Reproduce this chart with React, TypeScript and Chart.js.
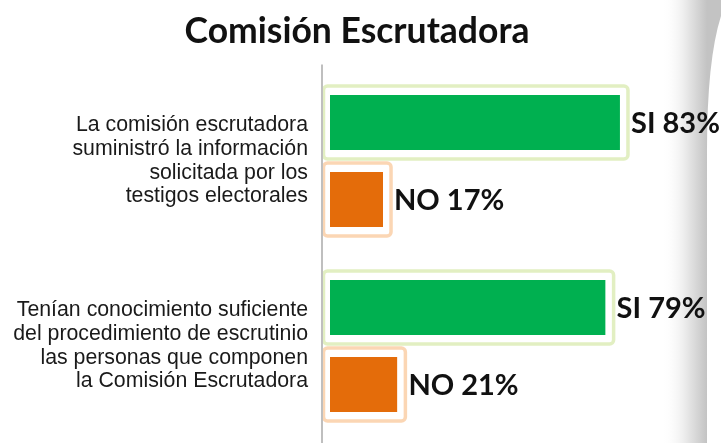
import React, { useEffect, useRef } from "react";
import { Chart, registerables } from "chart.js";

Chart.register(...registerables);

const titleText = "Comisión Escrutadora";
const categories = [
  ["La comisión escrutadora", "suministró la información", "solicitada por los", "testigos electorales"],
  ["Tenían conocimiento suficiente", "del procedimiento de escrutinio", "las personas que componen", "la Comisión Escrutadora"],
];
const seriesNames = ["SI", "NO"];
const siValues = [83, 79];
const noValues = [17, 21];

const fillColors = ["#00b050", "#e46c0a"];
const ringColors = ["#e2efc2", "#fbd6b4"];

const pageShade = {
  id: "pageShade",
  beforeDraw(chart: any) {
    const { ctx, width, height } = chart;
    ctx.save();
    ctx.fillStyle = "#ffffff";
    ctx.fillRect(0, 0, width, height);
    const g = ctx.createLinearGradient(662, 0, 707, 0);
    g.addColorStop(0, "rgba(255,255,255,0)");
    g.addColorStop(0.6, "rgba(228,228,228,1)");
    g.addColorStop(1, "rgba(195,195,195,1)");
    ctx.beginPath();
    ctx.moveTo(662, height);
    ctx.lineTo(662, 150);
    ctx.quadraticCurveTo(660, 40, 630, 0);
    ctx.lineTo(width, 0);
    ctx.lineTo(width, 16);
    ctx.quadraticCurveTo(707, 60, 707, 150);
    ctx.lineTo(707, height);
    ctx.closePath();
    ctx.fillStyle = g;
    ctx.fill();
    // title
    ctx.fillStyle = "#111111";
    ctx.font = "bold 35.5px Lato, 'Open Sans', sans-serif";
    ctx.textAlign = "center";
    ctx.textBaseline = "alphabetic";
    ctx.fillText(titleText, 357, 43);
    ctx.restore();
  },
};

const barDecor = {
  id: "barDecor",
  afterDatasetsDraw(chart: any) {
    const { ctx, chartArea } = chart;
    ctx.save();
    chart.data.datasets.forEach((ds: any, di: number) => {
      const meta = chart.getDatasetMeta(di);
      meta.data.forEach((bar: any, i: number) => {
        const { x, y, base, height } = bar.getProps(["x", "y", "base", "height"], true);
        ctx.strokeStyle = ringColors[di];
        ctx.lineWidth = 3.5;
        ctx.beginPath();
        const l = base + 1.5, r = x + 8, t = y - height / 2 - 9, b = y + height / 2 + 9;
        if ((ctx as any).roundRect) (ctx as any).roundRect(l, t, r - l, b - t, 4);
        else ctx.rect(l, t, r - l, b - t);
        ctx.stroke();
        ctx.fillStyle = "#111111";
        ctx.font = "bold 29px Lato, 'Open Sans', sans-serif";
        ctx.textAlign = "left";
        ctx.textBaseline = "middle";
        ctx.fillText(`${seriesNames[di]} ${ds.data[i]}%`, x + 11, y + 1);
      });
    });
    ctx.strokeStyle = "#bfbfbf";
    ctx.lineWidth = 2;
    ctx.beginPath();
    ctx.moveTo(chartArea.left, chartArea.top - 4);
    ctx.lineTo(chartArea.left, chart.height);
    ctx.stroke();
    ctx.restore();
  },
};

export default function App() {
  const ref = useRef<HTMLCanvasElement | null>(null);
  useEffect(() => {
    if (!ref.current) return;
    const chart = new Chart(ref.current, {
      type: "bar",
      data: {
        labels: categories,
        datasets: [
          {
            label: seriesNames[0],
            data: siValues,
            backgroundColor: fillColors[0],
            borderColor: "#ffffff",
            borderWidth: { left: 8, top: 0, right: 0, bottom: 0 },
            borderSkipped: false,
          },
          {
            label: seriesNames[1],
            data: noValues,
            backgroundColor: fillColors[1],
            borderColor: "#ffffff",
            borderWidth: { left: 8, top: 0, right: 0, bottom: 0 },
            borderSkipped: false,
          },
        ],
      },
      options: {
        indexAxis: "y",
        animation: false,
        responsive: false,
        maintainAspectRatio: false,
        categoryPercentage: 0.832,
        barPercentage: 0.714,
        layout: { padding: { left: 0, right: 40, top: 68.5, bottom: 4.5 } },
        plugins: {
          legend: { display: false },
          tooltip: { enabled: false },
          title: { display: false },
        },
        scales: {
          x: { display: false, min: 0, max: 100 },
          y: {
            grid: { display: false, drawTicks: false },
            border: { display: false },
            ticks: {
              color: "#1a1a1a",
              padding: 14,
              font: { family: "'Liberation Sans', Arial, sans-serif", size: 21.3, lineHeight: 1.11 },
            },
            afterFit(scale: any) {
              scale.width = 322;
              scale.paddingTop = 0;
              scale.paddingBottom = 0;
            },
          },
        },
      },
      plugins: [pageShade, barDecor],
    } as any);
    return () => chart.destroy();
  }, []);
  return (
    <div style={{ position: "fixed", left: 0, top: 0, width: 721, height: 443 }}>
      <canvas ref={ref} width={721} height={443} style={{ display: "block" }} />
    </div>
  );
}
